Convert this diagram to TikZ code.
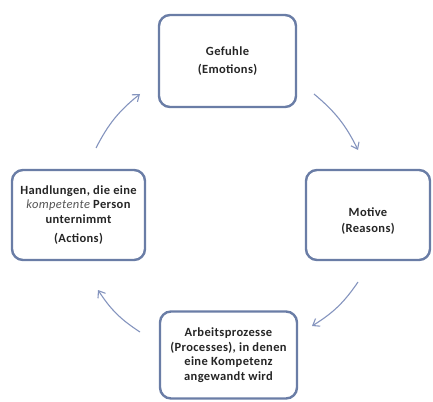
\documentclass[tikz,border=0pt]{standalone}
\usepackage{fontspec}
\setmainfont{Carlito}[LetterSpace=3]
\usetikzlibrary{arrows.meta}
\definecolor{boxline}{HTML}{6A7DA6}
\definecolor{arrowline}{HTML}{8494BE}
\definecolor{txt}{HTML}{262626}
\definecolor{softtxt}{HTML}{555555}
\begin{document}
\begin{tikzpicture}[x=1pt,y=-1pt,
  cyclebox/.style={draw=boxline, line width=2.4pt, rounded corners=11pt, fill=white,
    text=txt, font=\fontsize{12.5}{14.5}\selectfont\bfseries, align=center, inner sep=0pt},
  cyclearrow/.style={draw=arrowline, line width=1.1pt, -{Straight Barb[length=6pt,width=9pt]}}]
  \useasboundingbox (0,0) rectangle (433,401);
  % the four stages of the cycle
  \node[cyclebox, minimum width=137pt, minimum height=92pt] (emo) at (227.5,61) {Gefuhle\\[3pt](Emotions)};
  \node[cyclebox, minimum width=124pt, minimum height=90pt] (rea) at (368,215) {};
  \node[text=txt, font=\fontsize{12.5}{14.5}\selectfont\bfseries, align=center, inner sep=0pt] (reatext) at (rea.center) [yshift=-6pt] {Motive\\[2pt](Reasons)};
  \node[cyclebox, minimum width=137pt, minimum height=87pt] (pro) at (228.5,355) {Arbeitsprozesse\\(Processes), in denen\\eine Kompetenz\\angewandt wird};
  \node[cyclebox, minimum width=133pt, minimum height=90pt] (act) at (78.5,215) {Handlungen, die eine\\{\mdseries\itshape\color{softtxt}kompetente} Person\\unternimmt\\[5pt](Actions)};
  % arrow end points between the stages
  \coordinate (a1) at (314,94);
  \coordinate (b1) at (358,150);
  \coordinate (a2) at (358,282);
  \coordinate (b2) at (312,326);
  \coordinate (a3) at (140,332);
  \coordinate (b3) at (98,290);
  \coordinate (a4) at (96,148);
  \coordinate (b4) at (140,94);
  \draw[cyclearrow] (a1) to[bend left=12] (b1);
  \draw[cyclearrow] (a2) to[bend left=12] (b2);
  \draw[cyclearrow] (a3) to[bend left=12] (b3);
  \draw[cyclearrow] (a4) to[bend left=12] (b4);
\end{tikzpicture}
\end{document}
